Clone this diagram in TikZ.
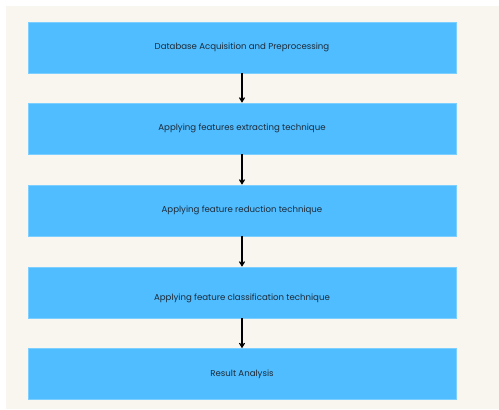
\documentclass[tikz,border=0pt]{standalone}
\usepackage{fontspec}
\setmainfont{Poppins}
\usetikzlibrary{arrows.meta}
\definecolor{bgc}{HTML}{F9F5EF}
\definecolor{boxc}{HTML}{4FBDFF}
\definecolor{boxb}{HTML}{7DCFFF}
\definecolor{txtc}{HTML}{1E2A38}
\begin{document}
\begin{tikzpicture}[x=1pt,y=-1pt,
  stepbox/.style={draw=boxb,line width=0.6pt,fill=boxc,minimum width=428pt,minimum height=51pt,inner sep=0pt,text=txtc,font=\fontsize{8.6}{10}\selectfont},
  flow/.style={line width=1.3pt,-{Straight Barb[length=4pt,width=5pt,line width=1.2pt]}}]
\useasboundingbox (0,0) rectangle (499,410);
\fill[white] (0,0) rectangle (499,410);
\fill[bgc] (6,6) rectangle (499,409);
\node[stepbox] (b1) at (242,47.5) {Database Acquisition and Preprocessing};
\node[stepbox] (b2) at (242,128.5) {Applying features extracting technique};
\node[stepbox] (b3) at (242,210.5) {Applying feature reduction technique};
\node[stepbox,label={[text=txtc,font=\fontsize{8.6}{10}\selectfont,inner sep=0pt,yshift=-6pt]center:Applying feature classification technique}] (b4) at (242,292.5) {};
\node[stepbox] (b5) at (242,374) {Result Analysis};
\draw[flow] (b1.south) -- (b2.north);
\draw[flow] (b2.south) -- (b3.north);
\draw[flow] (b3.south) -- (b4.north);
\draw[flow] (b4.south) -- (b5.north);
\end{tikzpicture}
\end{document}
